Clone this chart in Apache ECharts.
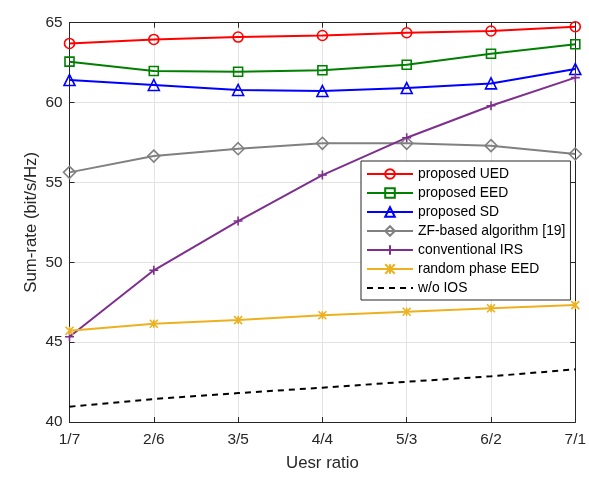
<!DOCTYPE html>
<html><head><meta charset="utf-8">
<script src="https://cdn.jsdelivr.net/npm/echarts@6/dist/echarts.min.js"></script>
<style>html,body{margin:0;padding:0;background:#fff}#c{width:589px;height:478px}</style>
</head><body><div id="c"></div>
<script>
const categories = ['1/7','2/6','3/5','4/4','5/3','6/2','7/1'];
const yTicks = [40,45,50,55,60,65];
const proposedUED = [63.7,63.95,64.1,64.2,64.37,64.48,64.75];
const proposedEED = [62.56,61.98,61.93,62.02,62.37,63.06,63.65];
const proposedSD = [61.41,61.1,60.79,60.72,60.91,61.2,62.1];
const zfBased = [55.63,56.65,57.11,57.45,57.45,57.3,56.78];
const conventionalIRS = [45.34,49.5,52.58,55.46,57.8,59.8,61.56];
const randomPhaseEED = [45.71,46.15,46.38,46.68,46.9,47.12,47.32];
const woIOS = [40.96,41.44,41.81,42.15,42.52,42.86,43.3];

const FONT = 'Liberation Sans, Arial, Helvetica, sans-serif';
const plusPath = 'path://M5,0L5,10M0,5L10,5';
const crossPath = 'path://M0,0L10,10M0,10L10,0M5,0L5,10';

function mk(name, data, color, symbol, size, dashed) {
  return {
    name, type: 'line', data, symbol: symbol || 'none', symbolSize: size || 8,
    showSymbol: !!symbol, color,
    lineStyle: {color, width: 2, type: dashed ? [6,5] : 'solid'},
    itemStyle: {color: 'rgba(255,255,255,0)', borderColor: color, borderWidth: 1.6},
    emphasis: {disabled: true}, animation: false, z: 3
  };
}

const names = ['proposed UED','proposed EED','proposed SD','ZF-based algorithm [19]','conventional IRS','random phase EED','w/o IOS'];
const legendData = names.map(n => n === 'w/o IOS'
  ? {name: n, itemStyle: {opacity: 0}}
  : {name: n});

const chart = echarts.init(document.getElementById('c'), null, {renderer: 'canvas'});
const axisColor = '#262626';
chart.setOption({
  animation: false,
  grid: {left: 69.5, right: 13, top: 22.7, bottom: 56, containLabel: false},
  xAxis: [{
    type: 'category', data: categories, boundaryGap: false,
    axisLine: {lineStyle: {color: axisColor, width: 1}},
    axisTick: {inside: true, length: 5, lineStyle: {color: axisColor}},
    axisLabel: {color: axisColor, fontSize: 15.4, fontFamily: FONT, margin: 10},
    splitLine: {show: true, lineStyle: {color: '#e3e3e3', width: 1}},
    name: 'Uesr ratio', nameLocation: 'middle', nameGap: 33, nameMoveOverlap: false,
    nameTextStyle: {color: axisColor, fontSize: 16.8, fontFamily: FONT}
  }, {
    type: 'category', data: categories, boundaryGap: false, position: 'top',
    axisLine: {lineStyle: {color: axisColor, width: 1}},
    axisTick: {inside: true, length: 5, lineStyle: {color: axisColor}},
    axisLabel: {show: false}, splitLine: {show: false}
  }],
  yAxis: [{
    type: 'value', min: yTicks[0], max: yTicks[yTicks.length-1], interval: 5,
    axisLine: {show: true, lineStyle: {color: axisColor, width: 1}},
    axisTick: {show: true, inside: true, length: 5, lineStyle: {color: axisColor}},
    axisLabel: {color: axisColor, fontSize: 15.4, fontFamily: FONT, margin: 7},
    splitLine: {show: true, lineStyle: {color: '#e3e3e3', width: 1}},
    name: 'Sum-rate (bit/s/Hz)', nameLocation: 'middle', nameGap: 30, nameMoveOverlap: false,
    nameTextStyle: {color: axisColor, fontSize: 16.8, fontFamily: FONT}
  }, {
    type: 'value', min: yTicks[0], max: yTicks[yTicks.length-1], interval: 5, position: 'right',
    axisLine: {show: true, lineStyle: {color: axisColor, width: 1}},
    axisTick: {show: true, inside: true, length: 5, lineStyle: {color: axisColor}},
    axisLabel: {show: false}, splitLine: {show: false}
  }],
  legend: {
    data: legendData,
    orient: 'vertical', left: 361, top: 161, padding: [6, 5, 5, 5],
    itemWidth: 46, itemHeight: 12, itemGap: 5,
    textStyle: {fontSize: 13.9, fontFamily: FONT, color: '#000', lineHeight: 13},
    backgroundColor: '#fff', borderColor: axisColor, borderWidth: 1,
    selectedMode: false
  },
  series: [
    mk(names[0], proposedUED, '#ff0000', 'circle', 10),
    mk(names[1], proposedEED, '#008000', 'rect', 9),
    mk(names[2], proposedSD, '#0000ff', 'triangle', 11),
    mk(names[3], zfBased, '#808080', 'diamond', 12),
    mk(names[4], conventionalIRS, '#7e2f8e', plusPath, 9),
    mk(names[5], randomPhaseEED, '#edb120', crossPath, 8),
    mk(names[6], woIOS, '#000000', null, 0, true)
  ]
});
</script></body></html>
